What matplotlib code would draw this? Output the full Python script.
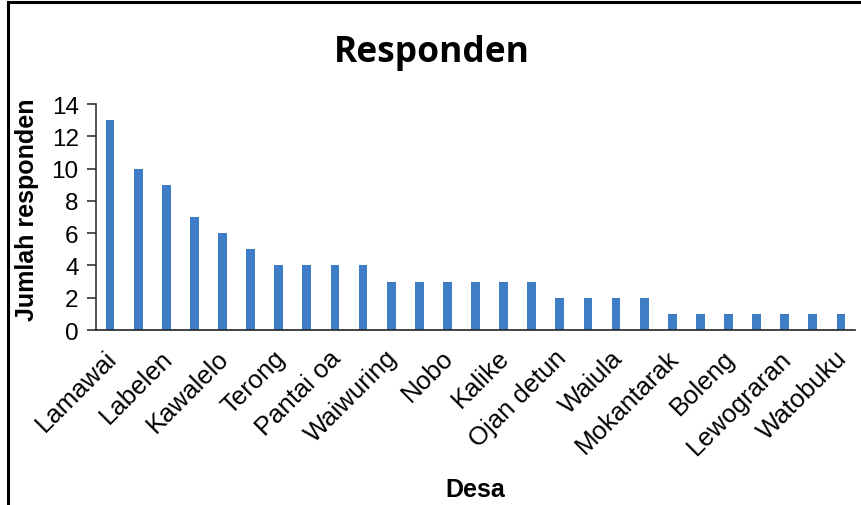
import matplotlib
matplotlib.use("Agg")
import matplotlib.pyplot as plt
from matplotlib.lines import Line2D
from matplotlib.transforms import ScaledTranslation

# Respondents per village, sorted descending
values = [13, 10, 9, 7, 6, 5, 4, 4, 4, 4, 3, 3, 3, 3, 3, 3,
          2, 2, 2, 2, 1, 1, 1, 1, 1, 1, 1]
# Villages named on the axis (every second bar)
tick_labels = ["Lamawai", "Labelen", "Kawalelo", "Terong", "Pantai oa",
               "Waiwuring", "Nobo", "Kalike", "Ojan detun", "Waiula",
               "Mokantarak", "Boleng", "Lewograran", "Watobuku"]
y_ticks = [0, 2, 4, 6, 8, 10, 12, 14]

plt.rcParams["font.family"] = ["Liberation Sans", "DejaVu Sans"]

fig = plt.figure(figsize=(8.61, 5.06), dpi=100)
ax = fig.add_axes([96 / 861, 1 - 331 / 506, (855 - 96) / 861, (331 - 105) / 506])

x = list(range(len(values)))
ax.bar(x, values, width=0.31, color="#3F7EC6", zorder=2)

ax.set_xlim(-0.5, len(values) - 0.5)
ax.set_ylim(0, 14)
ax.set_yticks(y_ticks)
ax.set_yticklabels([str(t) for t in y_ticks], fontsize=17.5)
ax.set_xticks(x[::2])
ax.set_xticklabels(tick_labels, rotation=45, ha="right", va="top",
                   rotation_mode="anchor", fontsize=18.5)
ax.tick_params(axis="x", length=0, pad=11)
ax.tick_params(axis="y", length=6.5, width=1.2, color="#333333", pad=6)

# move the slanted village names a little to the left
shift = ScaledTranslation(-6 / 100, 0, fig.dpi_scale_trans)
for lbl in ax.get_xticklabels():
    lbl.set_transform(lbl.get_transform() + shift)

for side in ("top", "right"):
    ax.spines[side].set_visible(False)
ax.spines["left"].set_color("#333333")
ax.spines["left"].set_linewidth(1.2)
ax.spines["bottom"].set_color("#222222")
ax.spines["bottom"].set_linewidth(1.2)

fig.text(432 / 861, 1 - 62 / 506, "Responden", ha="center", va="baseline",
         fontsize=25.5, fontweight="bold", family=["Open Sans", "DejaVu Sans"])
fig.text(27 / 861, 1 - 210 / 506, "Jumlah responden", rotation=90,
         ha="center", va="center", fontsize=18, fontweight="bold")
fig.text(475 / 861, 1 - 490 / 506, "Desa", ha="center", va="center",
         fontsize=18, fontweight="bold")

# Outer frame (left and top edges)
fig.add_artist(Line2D([8 / 861, 8 / 861], [0, 1 - 3 / 506],
                      transform=fig.transFigure, color="black", lw=2.2))
fig.add_artist(Line2D([8 / 861, 1], [1 - 3 / 506, 1 - 3 / 506],
                      transform=fig.transFigure, color="black", lw=2.2))

fig.savefig("out.png", dpi=100)
